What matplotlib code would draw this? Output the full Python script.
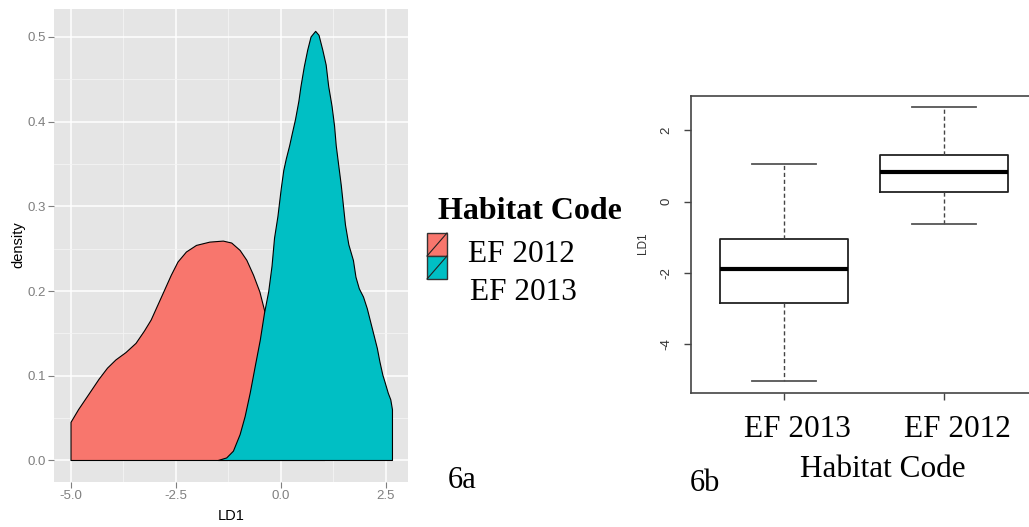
import matplotlib
matplotlib.use('Agg')
import matplotlib.pyplot as plt
from matplotlib.patches import Rectangle
from matplotlib.lines import Line2D
import matplotlib.transforms as mtransforms
import numpy as np

W, H, DPI = 1029, 527, 100

# ---------------- data ----------------
density_groups = ["EF 2012", "EF 2013"]
fill_colors = ["#F8766D", "#00BFC4"]

ef2012_x = [-5.0, -4.82, -4.58, -4.33, -4.13, -3.93, -3.69, -3.45, -3.25, -3.09,
            -2.93, -2.77, -2.61, -2.45, -2.25, -2.01, -1.69, -1.37, -1.17, -0.97,
            -0.81, -0.65, -0.50, -0.37, -0.20, 0.10, 0.40, 0.70, 1.05]
ef2012_y = [0.045, 0.060, 0.0776, 0.096, 0.109, 0.1187, 0.1274, 0.1383, 0.1528, 0.1658,
            0.1834, 0.201, 0.2187, 0.2343, 0.2461, 0.2539, 0.2578, 0.259, 0.2567, 0.248,
            0.2363, 0.2187, 0.199, 0.1736, 0.13, 0.08, 0.045, 0.025, 0.012]

ef2013_x = [-1.49, -1.29, -1.13, -0.97, -0.85, -0.73, -0.61, -0.49, -0.39, -0.29,
            -0.21, -0.15, -0.07, 0.01, 0.07, 0.13, 0.21, 0.27, 0.35, 0.43,
            0.48, 0.56, 0.64, 0.72, 0.83, 0.91, 1.00, 1.08, 1.14, 1.22,
            1.28, 1.32, 1.38, 1.44, 1.49, 1.54, 1.62, 1.73, 1.79, 1.87,
            1.97, 2.06, 2.14, 2.22, 2.30, 2.36, 2.43, 2.49, 2.56, 2.62, 2.66]
ef2013_y = [0.0, 0.003, 0.011, 0.0306, 0.052, 0.0795, 0.111, 0.142, 0.1736, 0.199,
            0.2294, 0.2625, 0.2878, 0.3209, 0.3423, 0.3559, 0.3715, 0.3851, 0.4026, 0.4241,
            0.4416, 0.465, 0.4844, 0.5, 0.5066, 0.5019, 0.4844, 0.4669, 0.4416, 0.4182,
            0.3949, 0.3715, 0.3481, 0.3248, 0.3014, 0.278, 0.2547, 0.236, 0.2164, 0.2027,
            0.1929, 0.1792, 0.1635, 0.1479, 0.1322, 0.1166, 0.1009, 0.0912, 0.0794, 0.0716, 0.0599]

density_xticks = [-5.0, -2.5, 0.0, 2.5]
density_xminor = [-3.75, -1.25, 1.25]
density_yticks = [0.0, 0.1, 0.2, 0.3, 0.4, 0.5]
density_yminor = [0.05, 0.15, 0.25, 0.35, 0.45]

box_labels = ["EF 2013", "EF 2012"]
box_whislo = [-5.05, -0.62]
box_q1 = [-2.85, 0.26]
box_med = [-1.90, 0.83]
box_q3 = [-1.05, 1.30]
box_whishi = [1.05, 2.67]
box_yticks = [-4, -2, 0, 2]

# ---------------- figure ----------------
plt.rcParams['font.family'] = ['Liberation Sans', 'DejaVu Sans']
fig = plt.figure(figsize=(W / DPI, H / DPI), dpi=DPI)
fig.patch.set_facecolor('white')


def fx(p):
    return p / W


def fy(p):
    return 1 - p / H


SERIF = ['Liberation Serif', 'DejaVu Serif']

# ---- left: density plot ----
ax1 = fig.add_axes([fx(54), fy(482), (408 - 54) / W, (482 - 9) / H])
ax1.set_facecolor('#E5E5E5')
for s in ax1.spines.values():
    s.set_visible(False)
ax1.set_xlim(-5.405, 3.03)
ax1.set_ylim(-0.0254, 0.533)
ax1.set_xticks(density_xticks)
ax1.set_xticklabels([f"{v:.1f}" for v in density_xticks])
ax1.set_yticks(density_yticks)
ax1.set_yticklabels([f"{v:.1f}" for v in density_yticks])
ax1.set_xticks(density_xminor, minor=True)
ax1.set_yticks(density_yminor, minor=True)
ax1.set_axisbelow(True)
ax1.grid(which='major', color='white', lw=1.1)
ax1.grid(which='minor', color='#F4F4F4', lw=0.6)
ax1.tick_params(which='minor', length=0)
ax1.tick_params(which='major', color='#7F7F7F', labelcolor='#7F7F7F',
                length=4, width=0.8, labelsize=9.5, pad=2)

for xs, ys, col, z in [(ef2012_x, ef2012_y, fill_colors[0], 2),
                       (ef2013_x, ef2013_y, fill_colors[1], 3)]:
    xs = np.asarray(xs)
    ys = np.asarray(ys)
    ax1.fill(np.r_[xs[0], xs, xs[-1]], np.r_[0, ys, 0], facecolor=col,
             edgecolor='black', lw=0.8, zorder=z, joinstyle='round')

fig.text(fx(231), fy(520.5), 'LD1', ha='center', va='baseline', fontsize=10.5)
fig.text(fx(18), fy(245), 'density', rotation=90, ha='center', va='center', fontsize=10.5)

# ---- legend (manual, ggplot style) ----
fig.text(fx(438), fy(219), 'Habitat Code', family=SERIF, weight='bold',
         fontsize=23, va='baseline', ha='left')
label_x = [468, 470]
label_base = [262, 300]
for i, (lab, col) in enumerate(zip(density_groups, fill_colors)):
    top = 233 + i * 23
    fig.add_artist(Rectangle((fx(427), fy(top + 23)), 20 / W, 23 / H,
                             transform=fig.transFigure, facecolor=col,
                             edgecolor='#333333', lw=1.0))
    fig.add_artist(Line2D([fx(427), fx(447)], [fy(top + 23), fy(top)],
                          transform=fig.transFigure, color='#222222', lw=0.8))
    fig.text(fx(label_x[i]), fy(label_base[i]), lab, family=SERIF, fontsize=22.5,
             va='baseline', ha='left')

fig.text(fx(448), fy(488), '6a', family=SERIF, fontsize=22, va='baseline', ha='left')

# ---- right: boxplot ----
ax2 = fig.add_axes([fx(690.7), fy(392.7), (1029 - 690.7) / W + 0.004, (392.7 - 95.7) / H])
stats = [dict(label=l, whislo=a, q1=b, med=c, q3=d, whishi=e, fliers=[])
         for l, a, b, c, d, e in zip(box_labels, box_whislo, box_q1, box_med, box_q3, box_whishi)]
ax2.bxp(stats, positions=[1, 2], widths=0.8, capwidths=0.4, showfliers=False,
        boxprops=dict(color='#222222', lw=1.3),
        whiskerprops=dict(color='#444444', lw=1.0, linestyle=(0, (3, 2))),
        capprops=dict(color='#555555', lw=1.3),
        medianprops=dict(color='black', lw=3),
        manage_ticks=False)
ax2.set_xlim(0.417, 2.557)
ax2.set_ylim(-5.365, 2.977)
for k, s in ax2.spines.items():
    s.set_color('#444444')
    s.set_linewidth(1.2)
ax2.spines['right'].set_visible(False)
ax2.set_xticks([1, 2])
ax2.set_xticklabels(box_labels, family=SERIF, fontsize=22.5)
ax2.set_yticks(box_yticks)
ax2.set_yticklabels([str(v) for v in box_yticks])
ax2.tick_params(axis='x', length=5, width=1, color='#444444', pad=11, labelcolor='black')
ax2.tick_params(axis='y', length=5, width=1, color='#444444', pad=8,
                labelsize=9.5, labelcolor='#333333')
for lbl in ax2.get_yticklabels():
    lbl.set_rotation(90)
    lbl.set_va('center')
    lbl.set_ha('right')
shift = mtransforms.ScaledTranslation(0.135, 0, fig.dpi_scale_trans)
for lbl in ax2.get_xticklabels():
    lbl.set_transform(lbl.get_transform() + shift)

fig.text(fx(643), fy(243), 'LD1', rotation=90, ha='center', va='center',
         fontsize=8.5, color='#333333')
fig.text(fx(883), fy(477.3), 'Habitat Code', family=SERIF, fontsize=22.5,
         ha='center', va='baseline')
fig.text(fx(689.3), fy(490.7), '6b', family=SERIF, fontsize=22, ha='left', va='baseline')

fig.savefig('out.png', dpi=DPI)
